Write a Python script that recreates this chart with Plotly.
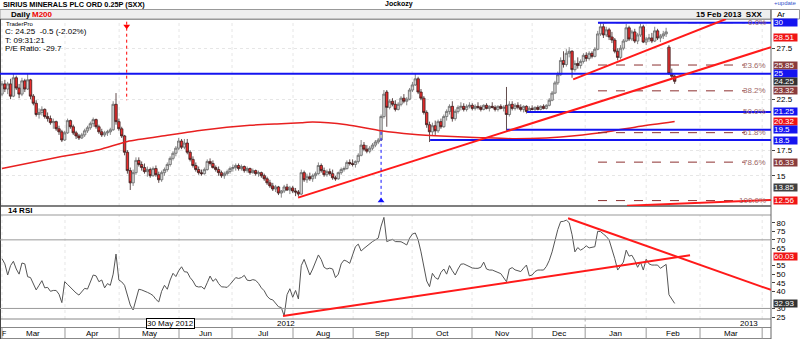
import plotly.graph_objects as go

# ---------------- DATA ----------------
opens = [23.0,24.0,23.5,24.0,22.8,24.6,23.6,23.0,24.3,23.5,24.4,22.8,22.1,21.0,21.2,21.5,20.8,20.6,20.2,20.3,
19.6,19.3,18.5,19.2,20.4,19.8,19.2,18.9,18.7,19.0,19.4,19.7,20.1,20.5,19.8,19.3,19.0,19.2,19.3,19.5,
22.0,20.3,19.6,18.9,17.3,15.5,14.3,15.3,16.5,16.1,15.8,15.4,15.6,15.0,15.7,15.1,14.6,15.3,15.6,16.1,
16.7,17.2,17.7,18.4,17.8,18.2,17.3,16.6,16.0,15.6,15.3,15.2,15.6,16.4,16.2,15.8,15.6,15.3,15.0,15.2,
15.4,15.7,15.8,16.0,15.7,15.9,15.5,15.7,15.3,15.5,15.2,15.3,15.0,14.7,14.3,14.0,13.7,13.9,13.3,13.5,
13.9,13.6,13.8,13.5,13.4,13.2,15.3,14.6,14.9,14.7,15.0,15.2,16.0,15.5,15.1,15.4,15.2,14.8,14.7,15.3,
15.6,15.7,16.3,16.2,16.1,16.4,17.0,18.0,17.6,17.4,17.7,18.0,18.3,18.5,20.8,23.2,21.7,22.3,22.0,21.5,
22.0,22.6,22.3,22.5,23.4,23.9,24.5,23.2,22.6,21.2,20.0,19.3,19.9,19.4,20.3,19.8,20.8,21.3,21.8,20.6,
21.3,21.7,21.8,21.5,21.8,21.9,21.6,21.8,21.7,21.5,21.9,21.6,21.8,21.7,21.5,21.8,21.6,21.9,21.0,22.0,
21.6,21.9,21.7,21.5,21.8,21.3,21.6,21.5,21.7,21.5,21.8,21.6,21.9,22.4,23.1,24.1,24.9,26.3,25.9,27.0,
27.2,25.4,26.0,25.8,26.2,26.8,26.5,27.0,26.7,27.4,28.9,29.6,28.8,29.3,28.6,28.3,27.2,26.6,27.5,28.2,
29.5,28.4,29.1,28.2,28.8,29.6,28.1,28.4,28.5,28.2,29.2,28.5,28.7,28.9,27.6,25.0,24.75]
highs = [24.3,24.4,24.2,24.5,25.0,24.8,24.0,24.6,24.5,25.0,24.5,23.0,22.4,21.6,21.8,21.6,21.2,20.9,20.6,20.4,
19.9,19.5,19.4,20.6,20.5,20.0,19.4,19.1,19.2,19.6,19.9,20.3,20.7,20.6,20.0,19.6,19.4,19.5,19.7,22.3,
23.1,20.6,19.8,19.0,17.5,15.8,15.6,16.8,16.8,16.4,16.2,15.9,15.8,15.9,16.0,15.4,15.5,15.8,16.3,16.9,
17.4,17.9,18.7,18.6,18.6,18.6,17.5,16.9,16.3,15.9,15.6,15.8,16.6,16.7,16.5,16.0,15.9,15.5,15.4,15.6,
15.9,16.1,16.2,16.2,16.1,16.0,15.9,15.8,15.7,15.6,15.5,15.4,15.2,14.9,14.6,14.3,14.1,14.0,13.6,14.1,
14.2,14.0,14.0,13.8,13.6,15.6,15.5,15.2,15.3,15.2,15.4,16.3,16.2,15.8,15.6,15.7,15.6,15.0,15.4,15.8,
15.9,16.5,16.6,16.6,16.5,17.2,18.5,18.3,18.0,17.9,18.2,18.5,18.7,21.0,23.4,23.4,22.5,22.6,22.4,22.2,
22.8,23.0,22.7,23.6,24.2,25.0,24.7,23.5,22.8,21.4,20.3,20.2,20.4,20.5,20.6,21.0,21.5,22.0,22.3,21.5,
21.9,22.2,22.1,22.0,22.2,22.1,22.0,22.2,21.9,22.0,22.1,21.9,22.2,21.9,21.9,22.0,21.9,23.7,22.3,22.3,
22.1,22.2,22.0,21.9,21.9,21.8,21.9,21.8,21.9,21.9,22.0,22.0,22.6,23.3,24.3,25.2,26.6,27.2,27.4,27.6,
27.3,26.3,26.6,26.4,27.0,27.1,27.2,27.2,27.6,29.2,30.0,29.9,29.6,29.5,29.1,28.5,27.5,27.8,28.4,29.9,
29.7,29.3,29.4,29.0,29.9,29.8,28.6,28.9,29.0,29.6,29.4,28.9,29.2,29.5,27.8,25.5,24.9]
lows = [22.8,23.2,23.0,22.5,22.7,23.4,22.6,22.8,23.2,23.4,22.5,21.9,20.8,20.6,20.9,20.6,20.3,20.0,19.6,19.4,
19.0,18.3,18.4,19.1,19.6,19.0,18.6,18.5,18.6,18.8,19.2,19.5,19.8,19.6,19.1,18.8,18.8,18.9,19.0,19.4,
20.0,19.4,18.7,17.0,15.2,13.6,14.0,15.1,15.9,15.5,15.2,14.9,14.8,14.9,14.9,14.3,14.4,15.0,15.4,15.9,
16.5,16.9,17.5,17.6,17.6,17.1,16.4,15.8,15.4,15.1,15.0,15.1,15.5,16.0,15.7,15.4,15.0,14.8,14.7,15.0,
15.2,15.4,15.5,15.5,15.5,15.3,15.3,15.1,15.2,15.0,14.9,14.8,14.5,14.1,13.8,13.5,13.4,13.1,12.85,13.3,
13.5,13.2,13.3,13.0,12.95,13.1,14.4,14.3,14.5,14.4,14.7,15.1,15.3,14.9,14.9,15.0,14.6,14.5,14.6,15.1,
15.4,15.6,16.0,15.9,15.8,16.2,16.9,17.4,17.2,17.2,17.5,17.8,18.1,18.4,20.6,19.8,21.5,21.8,21.3,21.4,
21.8,22.1,21.9,22.4,23.2,23.8,23.0,22.4,21.0,19.7,18.3,18.9,19.0,19.2,19.6,19.7,20.4,21.0,20.3,20.4,
21.1,21.4,21.3,21.3,21.6,21.4,21.4,21.5,21.3,21.4,21.5,21.3,21.6,21.3,21.3,21.5,21.3,19.4,20.8,21.4,
21.4,21.5,21.3,21.2,21.1,21.2,21.4,21.3,21.4,21.4,21.5,21.5,21.8,22.3,23.0,23.9,24.8,25.6,25.7,26.6,
24.6,25.2,25.5,25.5,26.0,26.2,26.3,26.5,26.6,27.3,28.7,28.5,28.6,28.3,28.0,27.0,26.3,26.4,27.3,28.1,
28.2,28.2,28.0,27.9,28.6,28.0,27.8,28.1,28.0,28.1,28.3,28.1,28.4,28.6,24.9,24.5,24.0]
closes = [24.0,23.5,24.0,22.8,24.6,23.6,23.0,24.3,23.5,24.4,22.8,22.1,21.0,21.2,21.5,20.8,20.6,20.2,20.3,19.6,
19.3,18.5,19.2,20.4,19.8,19.2,18.9,18.7,19.0,19.4,19.7,20.1,20.5,19.8,19.3,19.0,19.2,19.3,19.5,22.0,
20.3,19.6,18.9,17.3,15.5,14.3,15.3,16.5,16.1,15.8,15.4,15.6,15.0,15.7,15.1,14.6,15.3,15.6,16.1,16.7,
17.2,17.7,18.4,17.8,18.2,17.3,16.6,16.0,15.6,15.3,15.2,15.6,16.4,16.2,15.8,15.6,15.3,15.0,15.2,15.4,
15.7,15.8,16.0,15.7,15.9,15.5,15.7,15.3,15.5,15.2,15.3,15.0,14.7,14.3,14.0,13.7,13.9,13.3,13.5,13.9,
13.6,13.8,13.5,13.4,13.2,15.3,14.6,14.9,14.7,15.0,15.2,16.0,15.5,15.1,15.4,15.2,14.8,14.7,15.3,15.6,
15.7,16.3,16.2,16.1,16.4,17.0,18.0,17.6,17.4,17.7,18.0,18.3,18.5,20.8,23.0,21.7,22.3,22.0,21.5,22.0,
22.6,22.3,22.5,23.4,23.9,24.5,23.2,22.6,21.2,20.0,19.3,19.9,19.4,20.3,19.8,20.8,21.3,21.8,20.6,21.3,
21.7,21.8,21.5,21.8,21.9,21.6,21.8,21.7,21.5,21.9,21.6,21.8,21.7,21.5,21.8,21.6,21.7,21.0,22.0,21.6,
21.9,21.7,21.5,21.8,21.3,21.6,21.5,21.7,21.5,21.8,21.6,21.9,22.4,23.1,24.1,24.9,26.3,25.9,27.0,27.2,
25.4,26.0,25.8,26.2,26.8,26.5,27.0,26.7,27.4,28.9,29.6,28.8,29.3,28.6,28.3,27.2,26.6,27.5,28.2,29.5,
28.4,29.1,28.2,28.8,29.6,28.1,28.4,28.5,28.2,29.2,28.5,28.7,28.9,29.1,25.0,24.75,24.25]
rsi14 = [59,56,49.5,55,57.5,53,50,56.5,56,48.5,48,44,40.8,43.5,46.2,42,42.3,40,40.5,40.5,
38.3,33.4,45.6,44,42.3,40.3,39,37.8,39.5,41.7,41.3,45,49.5,49,45.6,46.6,42,44.5,43.5,50,
61.7,46.6,45.5,43.5,38,32,29.1,36,41.2,40.8,40.3,39.4,38.6,37.5,35.3,33.8,40,43.5,41.2,46.6,
50.5,48.6,52,54.3,51.4,51.2,48,46,43,42.5,42.7,41.3,45,48.9,45.8,47.3,44.5,42.6,42.5,42.3,
44,45.8,48,47.5,48,49.3,46.5,46.2,46.8,46.4,44.6,42,40.3,37.2,35.5,35,33,31,30.5,25.6,
38,41.5,36.5,40.5,35.5,55,58.6,54,49.5,53,57.5,61.2,58.5,54,53,53.5,53,48,50,56,
58.2,57.5,56.3,61,66,67.5,63.5,65,66.5,68,69,70,71,78,83.1,69,69.5,70.3,69,69,
68.9,68,67,71,73.4,74,70,63,55,46,42.7,50.5,48,47,51,53,50,55,52,49.5,
53,55.8,56,55.3,54.5,53.6,53.4,53.4,54,57,53,52.4,52.4,51.5,51,50.3,48,45.6,53,53.8,
52.5,51.8,51.5,53.5,55.3,49,49.5,51.5,52.4,52.4,52.4,54.5,58,63,70,76,80.6,80.8,81.5,80,
73,63,65.5,64,65,66.5,65.3,65.5,66,75,74.8,73.4,72,70,65,59,52.4,54.5,57,64,
60.5,61,58,54,57,52.4,58.7,56,55.3,55.3,55.3,53.4,54.8,55.7,38,35.5,32.93]

ma_idx = [0, 17, 34, 44, 58, 70, 87, 98, 105, 109, 121, 133, 144, 156, 168, 179, 191, 196, 210, 224, 236]
ma_val = [15.7, 16.67, 17.55, 18.36, 18.96, 19.45, 19.94, 20.1, 20.2, 20.27, 20.0, 19.4, 19.06, 18.86,
          18.73, 18.63, 18.7, 18.79, 19.2, 19.85, 20.32]

month_names = ["Mar", "Apr", "May", "Jun", "Jul", "Aug", "Sep", "Oct", "Nov", "Dec", "Jan", "Feb", "Mar"]
month_bounds = [0.0, 22.1, 41.1, 62.1, 80.7, 102.1, 123.2, 143.9, 164.9, 186.0, 204.6, 226.0, 244.9, 266.7]

fib_names = ["0.0%", "23.6%", "38.2%", "50.0%", "61.8%", "78.6%", "100.0%"]
fib_prices = [30.0, 25.85, 23.32, 21.28, 19.22, 16.33, 12.56]
fib_span = (209.1, 260.7)

blue_levels = [30.0, 25.0, 21.25, 19.5, 18.5]
blue_starts = [209.1, -0.7, 184.2, 177.2, 150.2]

price_trend = [(103.9, 12.85, 269.8, 27.6), (200.4, 24.45, 254.0, 30.36), (219.3, 12.06, 269.8, 12.62)]
rsi_trend = [(98.6, 25.6, 241.4, 61.0), (198.6, 82.6, 269.8, 40.8)]

price_labels = [(30.0, "30", "#1414f0"), (28.51, "28.51", "#f01414"), (25.85, "25.85", "#8a3c3c"),
                (25.0, "25", "#1414f0"), (24.25, "24.25", "#333333"), (23.32, "23.32", "#8a3c3c"),
                (21.25, "21.25", "#1414f0"), (20.32, "20.32", "#f01414"), (19.5, "19.5", "#1414f0"),
                (18.5, "18.5", "#1414f0"), (16.33, "16.33", "#8a3c3c"), (13.85, "13.85", "#404040"),
                (12.56, "12.56", "#f01414")]
rsi_labels = [(60.03, "60.03", "#f01414"), (32.93, "32.93", "#333333")]
price_ticks = [27.5, 22.5, 17.5, 15]
rsi_ticks = [80, 75, 70, 65, 55, 50, 45, 40, 30, 25]

red_arrow_x, red_arrow_top, red_arrow_bottom = 43.75, 30.1, 22.4
blue_arrow_x, blue_arrow_top, blue_arrow_bottom = 133.0, 19.3, 12.2

# ---------------- LAYOUT HELPERS ----------------
W, PLOT_R, TOP, BOT = 800, 771, 19, 319
PH = BOT - TOP
def px(x):
    return x / PLOT_R
def py(y):
    return (BOT - y) / PH

FONT = "Arial"
X_RANGE = [-0.7, 269.8]
P_RANGE = [12.03, 30.363]
R_RANGE = [23.85, 84.49]

fig = go.Figure()

fig.add_trace(go.Candlestick(
    x=list(range(len(closes))), open=opens, high=highs, low=lows, close=closes,
    xaxis="x", yaxis="y",
    increasing=dict(line=dict(color="#6a6a6a", width=0.8), fillcolor="#d4d4d4"),
    decreasing=dict(line=dict(color="#3a2020", width=0.8), fillcolor="#ec2c2c"),
    whiskerwidth=0, showlegend=False, hoverinfo="skip"))

fig.add_trace(go.Scatter(x=ma_idx, y=ma_val, mode="lines", xaxis="x", yaxis="y",
                         line=dict(color="#e82020", width=1.5, shape="spline", smoothing=0.6),
                         showlegend=False, hoverinfo="skip"))

fig.add_trace(go.Scatter(x=list(range(len(rsi14))), y=rsi14, mode="lines", xaxis="x", yaxis="y2",
                         line=dict(color="#555555", width=1), showlegend=False, hoverinfo="skip"))

fig.add_trace(go.Scatter(x=[red_arrow_x], y=[red_arrow_top - 0.45], mode="markers", xaxis="x", yaxis="y",
                         marker=dict(symbol="triangle-down", size=6, color="#ff0000"),
                         showlegend=False, hoverinfo="skip"))
fig.add_trace(go.Scatter(x=[blue_arrow_x], y=[blue_arrow_bottom + 0.35], mode="markers", xaxis="x", yaxis="y",
                         marker=dict(symbol="triangle-up", size=6, color="#1010ff"),
                         showlegend=False, hoverinfo="skip"))

shapes = []
# header bars
shapes.append(dict(type="rect", xref="paper", yref="paper", x0=px(0), x1=px(PLOT_R), y0=py(19), y1=py(9.5),
                   fillcolor="#eeeeee", line=dict(color="#999999", width=1), layer="below"))
shapes.append(dict(type="rect", xref="paper", yref="paper", x0=px(PLOT_R), x1=px(799.5), y0=py(19), y1=py(9.5),
                   fillcolor="#ffffff", line=dict(color="#999999", width=1)))
# rsi label bar
shapes.append(dict(type="line", xref="paper", yref="paper", x0=0, x1=1, y0=py(206), y1=py(206),
                   line=dict(color="#555555", width=1.5)))
shapes.append(dict(type="line", xref="paper", yref="paper", x0=0, x1=1, y0=py(215), y1=py(215),
                   line=dict(color="#999999", width=1)))
shapes.append(dict(type="line", xref="paper", yref="paper", x0=0, x1=1, y0=py(19.5), y1=py(19.5),
                   line=dict(color="#999999", width=1)))
# bottom bars
for yy in [319, 327.5, 338.5]:
    shapes.append(dict(type="line", xref="paper", yref="paper", x0=0, x1=1, y0=py(yy), y1=py(yy),
                       line=dict(color="#888888", width=1)))
# vertical borders
shapes.append(dict(type="line", xref="paper", yref="paper", x0=1, x1=1, y0=py(339), y1=py(9.5),
                   line=dict(color="#666666", width=1)))
shapes.append(dict(type="line", xref="paper", yref="paper", x0=px(0.5), x1=px(0.5), y0=py(339), y1=py(19),
                   line=dict(color="#444444", width=1)))
# month separators in the month bar
for b in month_bounds:
    shapes.append(dict(type="line", xref="x", yref="paper", x0=b, x1=b, y0=py(338.5), y1=py(327.5),
                       line=dict(color="#999999", width=1)))
# year separator
shapes.append(dict(type="line", xref="x", yref="paper", x0=month_bounds[10], x1=month_bounds[10],
                   y0=py(327.5), y1=py(319), line=dict(color="#aaaaaa", width=1, dash="dot")))
# faint grid in panels
for b in month_bounds:
    for yr, rng in (("y", P_RANGE), ("y2", R_RANGE)):
        shapes.append(dict(type="line", xref="x", yref=yr, x0=b, x1=b, y0=rng[0], y1=rng[1],
                           line=dict(color="#e6e6e6", width=1, dash="dot"), layer="below"))
# RSI 70 / 30 lines
for lv in (70, 30):
    shapes.append(dict(type="line", xref="x", yref="y2", x0=X_RANGE[0], x1=X_RANGE[1], y0=lv, y1=lv,
                       line=dict(color="#999999", width=1)))
# fib dashed lines
for fp in fib_prices:
    shapes.append(dict(type="line", xref="x", yref="y", x0=fib_span[0], x1=fib_span[1], y0=fp, y1=fp,
                       line=dict(color="#8c3030", width=1, dash="dash")))
# blue levels
for lv, st in zip(blue_levels, blue_starts):
    shapes.append(dict(type="line", xref="x", yref="y", x0=st, x1=X_RANGE[1], y0=lv, y1=lv,
                       line=dict(color="#1414f0", width=2)))
# trend lines
for (a, b, c, d) in price_trend:
    shapes.append(dict(type="line", xref="x", yref="y", x0=a, y0=b, x1=c, y1=d,
                       line=dict(color="#ff1a1a", width=2)))
for (a, b, c, d) in rsi_trend:
    shapes.append(dict(type="line", xref="x", yref="y2", x0=a, y0=b, x1=c, y1=d,
                       line=dict(color="#ff1a1a", width=2)))
# arrows' dotted lines
shapes.append(dict(type="line", xref="x", yref="y", x0=red_arrow_x, x1=red_arrow_x,
                   y0=red_arrow_top, y1=red_arrow_bottom, line=dict(color="#ff0000", width=1, dash="dot")))
shapes.append(dict(type="line", xref="x", yref="y", x0=blue_arrow_x, x1=blue_arrow_x,
                   y0=blue_arrow_top, y1=blue_arrow_bottom, line=dict(color="#1010ff", width=1, dash="dot")))

ann = []
def text(x, y, t, size=8, color="#000", xanchor="left", bold=False, **kw):
    if bold:
        t = "<b>" + t + "</b>"
    d = dict(xref="paper", yref="paper", x=px(x), y=py(y), text=t, showarrow=False,
             xanchor=xanchor, yanchor="middle", font=dict(family=FONT, size=size, color=color))
    d.update(kw)
    ann.append(d)

text(1, 4.5, "SIRIUS MINERALS PLC ORD 0.25P (SXX)", size=7.3, bold=True)
text(399, 4.5, "Jockozy", size=7, xanchor="center", bold=True)
text(772, 3.5, "+update", size=6, color="#3355cc")
text(9, 14.5, "Daily", size=8, bold=True)
text(30, 14.5, "M200", size=8, color="#ee0000", bold=True)
text(764, 14.5, "15 Feb 2013  SXX", size=8, xanchor="right", bold=True)
text(775, 14.5, "Ar", size=8)
text(4, 24, "TraderPro", size=6)
text(3, 31.5, "C: 24.25  -0.5 (-2.02%)", size=8)
text(3, 40.5, "T: 09:31:21", size=8)
text(3, 49, "P/E Ratio: -29.7", size=8)
text(6, 210.5, "14 RSI", size=8, bold=True)
text(297, 323.5, "2012", size=8, xanchor="right")
text(760, 323.5, "2013", size=8, xanchor="right")
text(170, 323.5, "30 May 2012", size=8, xanchor="center", bgcolor="#ffffff",
     bordercolor="#000000", borderwidth=1, borderpad=0)
text(0, 333.5, "F", size=7, xanchor="left")
for i, m in enumerate(month_names):
    mid = (month_bounds[i] + month_bounds[i + 1]) / 2
    ann.append(dict(xref="x", yref="paper", x=mid, y=py(333.5), text=m, showarrow=False,
                    xanchor="center", yanchor="middle", font=dict(family=FONT, size=8, color="#000")))
# fib labels
for name, fp in zip(fib_names, fib_prices):
    ann.append(dict(xref="paper", yref="y", x=px(768), y=fp, text=name, showarrow=False,
                    xanchor="right", yanchor="middle", font=dict(family=FONT, size=8, color="#a06868")))
# right axis value boxes
for v, t, c in price_labels:
    ann.append(dict(xref="paper", yref="y", x=1, xshift=2, y=v, text=t, showarrow=False,
                    xanchor="left", yanchor="middle", align="left", width=23, height=7,
                    bgcolor=c, borderpad=0, font=dict(family=FONT, size=8, color="#ffffff")))
for v, t, c in rsi_labels:
    ann.append(dict(xref="paper", yref="y2", x=1, xshift=2, y=v, text=t, showarrow=False,
                    xanchor="left", yanchor="middle", align="left", width=23, height=7,
                    bgcolor=c, borderpad=0, font=dict(family=FONT, size=8, color="#ffffff")))

fig.update_layout(
    width=W, height=339, margin=dict(l=0, r=W - PLOT_R, t=TOP, b=339 - BOT),
    paper_bgcolor="#ffffff", plot_bgcolor="#ffffff", showlegend=False,
    boxgap=0.15, boxgroupgap=0,
    xaxis=dict(domain=[0, 1], range=X_RANGE, anchor="y2", showticklabels=False, showgrid=False,
               zeroline=False, showline=False, ticks="", rangeslider=dict(visible=False), fixedrange=True),
    yaxis=dict(domain=[py(206), 1], range=P_RANGE, side="right", anchor="x", tickvals=price_ticks,
               ticks="outside", ticklen=3, tickcolor="#444", showgrid=True, gridcolor="#e6e6e6",
               griddash="dot", zeroline=False, showline=False,
               tickfont=dict(family=FONT, size=8, color="#000")),
    yaxis2=dict(domain=[0, py(215)], range=R_RANGE, side="right", anchor="x", tickvals=rsi_ticks,
                ticks="outside", ticklen=3, tickcolor="#444", showgrid=False, zeroline=False,
                showline=False, tickfont=dict(family=FONT, size=8, color="#000")),
    shapes=shapes, annotations=ann,
)

fig.write_html("out.html")
